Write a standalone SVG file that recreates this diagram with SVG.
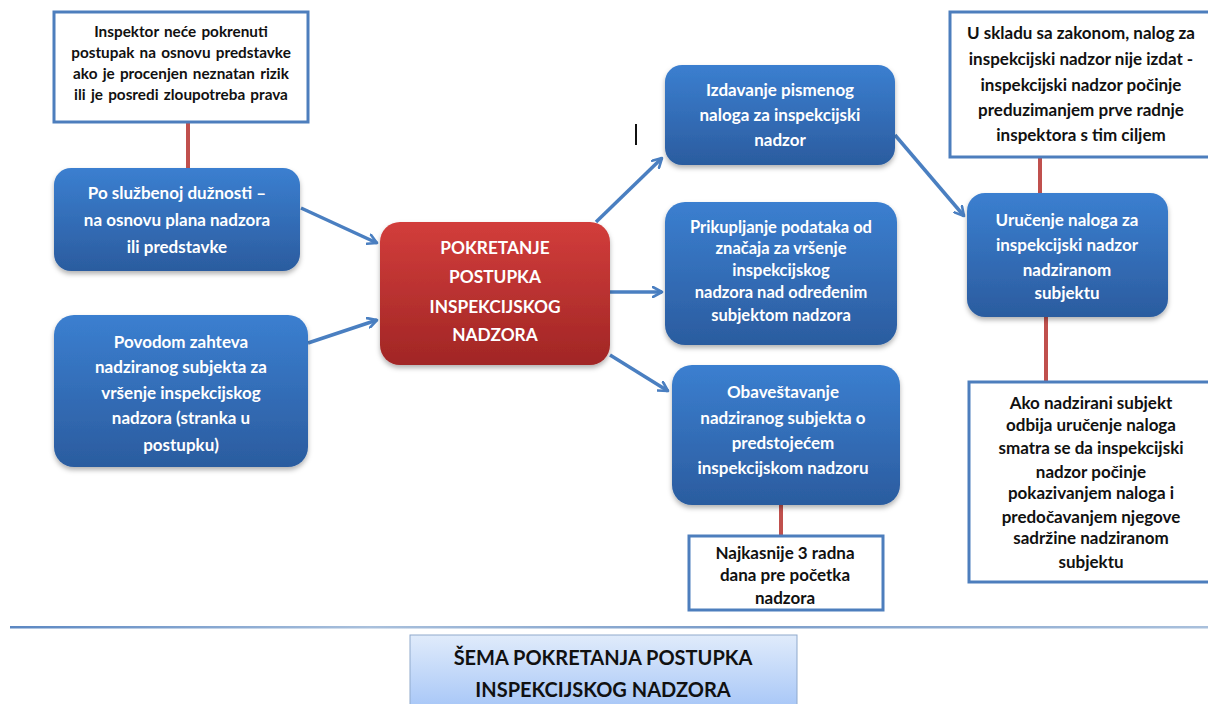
<svg xmlns="http://www.w3.org/2000/svg" width="1208" height="704" viewBox="0 0 1208 704">
<defs>
<linearGradient id="gBlue" x1="0" y1="0" x2="0" y2="1">
<stop offset="0" stop-color="#3b7fd0"/>
<stop offset="1" stop-color="#2b5c9f"/>
</linearGradient>
<linearGradient id="gRed" x1="0" y1="0" x2="0" y2="1">
<stop offset="0" stop-color="#d23d3b"/>
<stop offset="1" stop-color="#a12625"/>
</linearGradient>
<linearGradient id="gTitle" x1="0" y1="0" x2="0" y2="1">
<stop offset="0" stop-color="#e0ebfb"/>
<stop offset="1" stop-color="#a6c6f7"/>
</linearGradient>
<linearGradient id="gLine" x1="0" y1="0" x2="1" y2="0">
<stop offset="0" stop-color="#5b87c2"/>
<stop offset="0.3" stop-color="#a9c0dc"/>
<stop offset="0.6" stop-color="#7a9cc9"/>
<stop offset="1" stop-color="#a9c0dc"/>
</linearGradient>
<filter id="sh" x="-10%" y="-10%" width="120%" height="130%">
<feDropShadow dx="0" dy="3" stdDeviation="2.5" flood-color="#000" flood-opacity="0.3"/>
</filter>
<marker id="arr" viewBox="0 0 12 12" refX="10" refY="6" markerWidth="12" markerHeight="12" markerUnits="userSpaceOnUse" orient="auto">
<path d="M1,1 L10,6 L1,11" fill="none" stroke="#4a7fc1" stroke-width="2.6" stroke-linecap="round" stroke-linejoin="round"/>
</marker>
</defs>
<style>
.blue{fill:url(#gBlue);filter:url(#sh)}
.red{fill:url(#gRed);filter:url(#sh)}
.note{fill:#fff;stroke:#4d7ebd;stroke-width:3}
.wt{font-family:Lato,"Liberation Sans",sans-serif;font-weight:bold;font-size:17px;fill:#fff;text-anchor:middle}
.bt{font-family:Lato,"Liberation Sans",sans-serif;font-weight:bold;font-size:17px;fill:#111;text-anchor:middle}
.rt{font-family:Lato,"Liberation Sans",sans-serif;font-weight:bold;font-size:17.3px;fill:#fff;text-anchor:middle}
.conn{fill:none;stroke:#4a7fc1;stroke-width:3.5;marker-end:url(#arr)}
.stem{stroke:#c0504d;stroke-width:4}
</style>

<g id="connectors">
<line class="stem" x1="188" y1="123" x2="188" y2="168"/>
<line class="stem" x1="781" y1="505" x2="781" y2="535"/>
<line class="stem" x1="1040" y1="157" x2="1040" y2="194"/>
<line class="stem" x1="1046" y1="317" x2="1046" y2="381"/>
<line class="conn" x1="301" y1="208" x2="377" y2="243"/>
<line class="conn" x1="308" y1="343" x2="377" y2="320"/>
<line class="conn" x1="596" y1="222" x2="662" y2="158"/>
<line class="conn" x1="610" y1="292" x2="662" y2="292"/>
<line class="conn" x1="610" y1="355" x2="668" y2="391"/>
<line class="conn" x1="895" y1="135" x2="964" y2="216"/>
</g>

<g id="n-note-left">
<rect class="note" x="54" y="12" width="254" height="110"/>
<text class="bt" x="181" y="37" style="font-size:15.3px;word-spacing:1.5px">Inspektor neće pokrenuti</text>
<text class="bt" x="181" y="58" style="font-size:15.3px;word-spacing:1.5px">postupak na osnovu predstavke</text>
<text class="bt" x="181" y="79" style="font-size:15.3px;word-spacing:1.5px">ako je procenjen neznatan rizik</text>
<text class="bt" x="181" y="100" style="font-size:15.3px;word-spacing:1.5px">ili je posredi zloupotreba prava</text>
</g>

<g id="n-po-sluzbenoj">
<rect class="blue" x="54" y="168" width="246" height="103" rx="17"/>
<text class="wt" x="177" y="199">Po službenoj dužnosti –</text>
<text class="wt" x="177" y="226">na osnovu plana nadzora</text>
<text class="wt" x="177" y="253">ili  predstavke</text>
</g>

<g id="n-povodom">
<rect class="blue" x="54" y="315" width="254" height="152" rx="20"/>
<text class="wt" x="181" y="348">Povodom zahteva</text>
<text class="wt" x="181" y="373">nadziranog subjekta za</text>
<text class="wt" x="181" y="399">vršenje inspekcijskog</text>
<text class="wt" x="181" y="424">nadzora (stranka u</text>
<text class="wt" x="181" y="451">postupku)</text>
</g>

<g id="n-pokretanje">
<rect class="red" x="380" y="222" width="230" height="143" rx="20"/>
<text class="rt" x="495" y="254">POKRETANJE</text>
<text class="rt" x="495" y="283">POSTUPKA</text>
<text class="rt" x="495" y="313">INSPEKCIJSKOG</text>
<text class="rt" x="495" y="341">NADZORA</text>
</g>

<g id="n-izdavanje">
<rect class="blue" x="665" y="65" width="230" height="100" rx="17"/>
<text class="wt" x="780" y="96">Izdavanje pismenog</text>
<text class="wt" x="780" y="121">naloga za inspekcijski</text>
<text class="wt" x="780" y="146">nadzor</text>
</g>

<g id="n-prikupljanje">
<rect class="blue" x="665" y="202" width="232" height="143" rx="20"/>
<text class="wt" x="781" y="233" style="font-size:16.5px">Prikupljanje podataka od</text>
<text class="wt" x="781" y="254" style="font-size:16.5px">značaja za vršenje</text>
<text class="wt" x="781" y="276" style="font-size:16.5px">inspekcijskog</text>
<text class="wt" x="781" y="298" style="font-size:16.5px">nadzora nad određenim</text>
<text class="wt" x="781" y="321" style="font-size:16.5px">subjektom nadzora</text>
</g>

<g id="n-obavestavanje">
<rect class="blue" x="672" y="365" width="228" height="140" rx="20"/>
<text class="wt" x="783" y="398">Obaveštavanje</text>
<text class="wt" x="783" y="424">nadziranog subjekta o</text>
<text class="wt" x="783" y="449">predstojećem</text>
<text class="wt" x="783" y="474">inspekcijskom nadzoru</text>
</g>

<g id="n-najkasnije">
<rect class="note" x="689" y="536" width="194" height="74"/>
<text class="bt" x="785" y="559">Najkasnije 3 radna</text>
<text class="bt" x="785" y="581">dana pre početka</text>
<text class="bt" x="785" y="604">nadzora</text>
</g>

<g id="n-note-right">
<rect class="note" x="950" y="12" width="262" height="145"/>
<text class="bt" x="1081" y="39">U skladu sa zakonom, nalog za</text>
<text class="bt" x="1081" y="65">inspekcijski nadzor nije izdat -</text>
<text class="bt" x="1081" y="91">inspekcijski nadzor počinje</text>
<text class="bt" x="1081" y="116">preduzimanjem prve radnje</text>
<text class="bt" x="1081" y="141">inspektora s tim ciljem</text>
</g>

<g id="n-urucenje">
<rect class="blue" x="967" y="193" width="201" height="124" rx="18"/>
<text class="wt" x="1067" y="226">Uručenje naloga za</text>
<text class="wt" x="1067" y="251">inspekcijski nadzor</text>
<text class="wt" x="1067" y="276">nadziranom</text>
<text class="wt" x="1067" y="299">subjektu</text>
</g>

<g id="n-ako">
<rect class="note" x="969" y="382" width="242" height="200"/>
<text class="bt" x="1091" y="409">Ako nadzirani subjekt</text>
<text class="bt" x="1091" y="431">odbija uručenje naloga</text>
<text class="bt" x="1091" y="454">smatra se da inspekcijski</text>
<text class="bt" x="1091" y="478">nadzor počinje</text>
<text class="bt" x="1091" y="499">pokazivanjem naloga i</text>
<text class="bt" x="1091" y="523">predočavanjem njegove</text>
<text class="bt" x="1091" y="544">sadržine nadziranom</text>
<text class="bt" x="1091" y="568">subjektu</text>
</g>

<line x1="636" y1="124" x2="636" y2="145" stroke="#111" stroke-width="2"/>

<rect x="10" y="626" width="1198" height="2.5" fill="url(#gLine)"/>

<g id="n-title">
<rect x="410" y="635" width="387" height="75" fill="url(#gTitle)" stroke="#8fa9cc" stroke-width="1"/>
<text class="bt" x="603" y="665" style="font-size:20px">ŠEMA POKRETANJA POSTUPKA</text>
<text class="bt" x="603" y="697" style="font-size:20px">INSPEKCIJSKOG NADZORA</text>
</g>
</svg>
